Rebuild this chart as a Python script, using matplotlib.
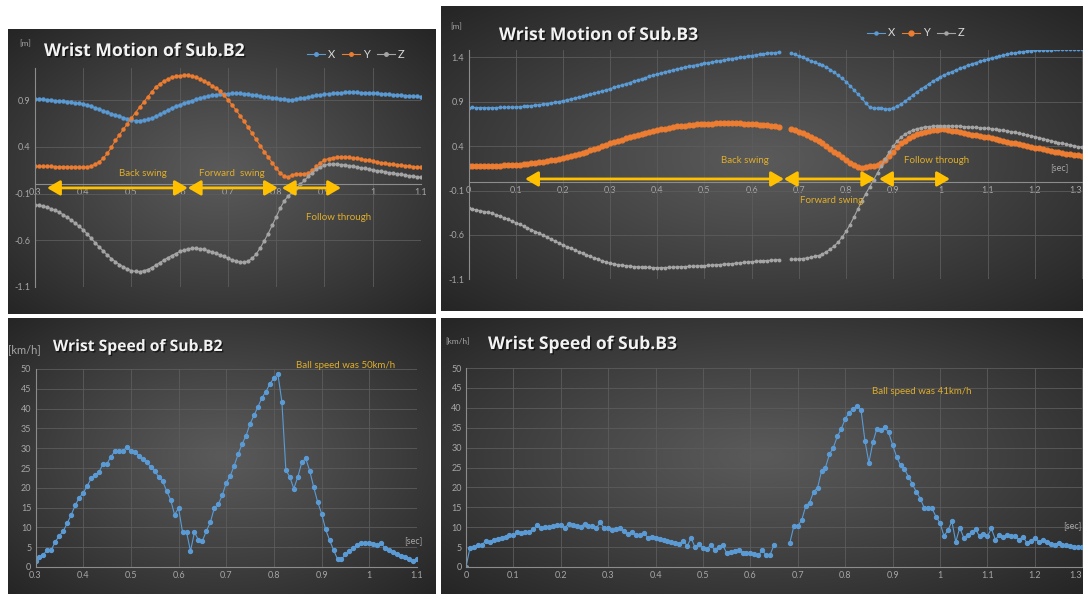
import numpy as np
import matplotlib.pyplot as plt
import matplotlib.patheffects as pe
from matplotlib.lines import Line2D

plt.rcParams['font.family'] = ['Lato', 'DejaVu Sans']

W, H = 1083, 594
nan = np.nan

# category labels, one every 12 samples (120 Hz -> 0.1 s)
b2_ticks = ['0.3', '0.4', '0.5', '0.6', '0.7', '0.8', '0.9', '1', '1.1']
b3_ticks = ['0', '0.1', '0.2', '0.3', '0.4', '0.5', '0.6', '0.7', '0.8',
            '0.9', '1', '1.1', '1.2', '1.3']
b2_motion_yticks = [-1.1, -0.6, -0.1, 0.4, 0.9]
b3_motion_yticks = [-1.1, -0.6, -0.1, 0.4, 0.9, 1.4]
speed_yticks = [0, 5, 10, 15, 20, 25, 30, 35, 40, 45, 50]

# Sub.B2 wrist position [m], 0.3 .. 1.1 s
b2_x = [0.915, 0.912, 0.909, 0.906, 0.902, 0.898, 0.894, 0.889, 0.884, 0.878, 0.872, 0.866,
        0.860, 0.850, 0.836, 0.820, 0.804, 0.788, 0.772, 0.756, 0.741, 0.727, 0.714, 0.701,
        0.690, 0.683, 0.683, 0.687, 0.695, 0.709, 0.727, 0.748, 0.771, 0.795, 0.815, 0.835,
        0.852, 0.868, 0.883, 0.897, 0.910, 0.924, 0.937, 0.947, 0.955, 0.962, 0.967, 0.971,
        0.973, 0.975, 0.975, 0.974, 0.971, 0.966, 0.960, 0.953, 0.945, 0.937, 0.931, 0.927,
        0.923, 0.918, 0.913, 0.908, 0.906, 0.912, 0.920, 0.928, 0.936, 0.944, 0.952, 0.959,
        0.965, 0.970, 0.975, 0.979, 0.982, 0.984, 0.986, 0.986, 0.985, 0.983, 0.981, 0.979,
        0.977, 0.974, 0.971, 0.968, 0.964, 0.961, 0.958, 0.955, 0.951, 0.948, 0.945, 0.942,
        0.940]
b2_y = [0.190, 0.190, 0.190, 0.190, 0.190, 0.189, 0.188, 0.187, 0.186, 0.185, 0.184, 0.182,
        0.180, 0.185, 0.196, 0.214, 0.240, 0.280, 0.330, 0.395, 0.470, 0.530, 0.590, 0.650,
        0.710, 0.768, 0.825, 0.880, 0.935, 0.990, 1.040, 1.075, 1.105, 1.128, 1.145, 1.157,
        1.165, 1.169, 1.170, 1.163, 1.148, 1.130, 1.111, 1.085, 1.058, 1.030, 1.000, 0.955,
        0.905, 0.850, 0.795, 0.735, 0.675, 0.610, 0.545, 0.480, 0.415, 0.350, 0.290, 0.230,
        0.170, 0.120, 0.085, 0.080, 0.100, 0.112, 0.110, 0.112, 0.120, 0.150, 0.190, 0.228,
        0.260, 0.275, 0.285, 0.290, 0.292, 0.291, 0.287, 0.282, 0.276, 0.270, 0.263, 0.256,
        0.245, 0.238, 0.232, 0.226, 0.220, 0.214, 0.209, 0.204, 0.199, 0.194, 0.189, 0.184,
        0.180]
b2_z = [-0.220, -0.228, -0.237, -0.248, -0.262, -0.280, -0.302, -0.327, -0.355, -0.385, -0.418, -0.453,
        -0.490, -0.535, -0.582, -0.630, -0.675, -0.718, -0.760, -0.798, -0.832, -0.862, -0.888, -0.910,
        -0.928, -0.936, -0.937, -0.930, -0.916, -0.895, -0.870, -0.843, -0.816, -0.790, -0.766, -0.745,
        -0.722, -0.707, -0.695, -0.689, -0.688, -0.692, -0.700, -0.712, -0.726, -0.742, -0.758, -0.775,
        -0.795, -0.810, -0.825, -0.836, -0.838, -0.825, -0.795, -0.750, -0.685, -0.610, -0.530, -0.440,
        -0.350, -0.255, -0.180, -0.125, -0.085, -0.045, 0.000, 0.040, 0.085, 0.125, 0.160, 0.185,
        0.205, 0.212, 0.215, 0.214, 0.211, 0.207, 0.200, 0.193, 0.185, 0.177, 0.169, 0.161,
        0.153, 0.146, 0.139, 0.132, 0.125, 0.118, 0.110, 0.104, 0.098, 0.092, 0.086, 0.080,
        0.074]

# Sub.B3 wrist position [m], 0 .. 1.3 s (gap of missing samples near 0.67 s)
b3_x = [0.833, 0.835, 0.834, 0.833, 0.832, 0.832, 0.833, 0.834, 0.835, 0.836, 0.837, 0.838,
        0.840, 0.843, 0.846, 0.850, 0.855, 0.860, 0.866, 0.872, 0.879, 0.886, 0.893, 0.900,
        0.910, 0.920, 0.930, 0.940, 0.950, 0.961, 0.972, 0.984, 0.996, 1.008, 1.020, 1.033,
        1.046, 1.060, 1.074, 1.088, 1.102, 1.116, 1.130, 1.144, 1.158, 1.172, 1.186, 1.199,
        1.212, 1.224, 1.236, 1.247, 1.258, 1.268, 1.278, 1.288, 1.298, 1.307, 1.316, 1.324,
        1.332, 1.340, 1.348, 1.356, 1.363, 1.370, 1.377, 1.384, 1.391, 1.398, 1.405, 1.412,
        1.420, 1.428, 1.434, 1.440, 1.445, 1.450, 1.454, 1.457, nan, nan, 1.446, 1.432,
        1.415, 1.398, 1.380, 1.362, 1.344, 1.328, 1.313, 1.290, 1.262, 1.230, 1.197, 1.162,
        1.126, 1.080, 1.032, 0.985, 0.940, 0.885, 0.840, 0.828, 0.826, 0.824, 0.820, 0.818,
        0.830, 0.850, 0.875, 0.905, 0.940, 0.975, 1.010, 1.040, 1.070, 1.100, 1.128, 1.155,
        1.182, 1.202, 1.222, 1.240, 1.258, 1.276, 1.295, 1.311, 1.326, 1.340, 1.353, 1.366,
        1.380, 1.392, 1.403, 1.414, 1.424, 1.434, 1.443, 1.451, 1.458, 1.464, 1.469, 1.473,
        1.477, 1.480, 1.483, 1.485, 1.487, 1.488, 1.489, 1.490, 1.490, 1.490, 1.490, 1.490,
        1.490, 1.490]
b3_y = [0.180, 0.178, 0.176, 0.175, 0.175, 0.176, 0.177, 0.178, 0.180, 0.182, 0.184, 0.186,
        0.188, 0.191, 0.195, 0.200, 0.205, 0.211, 0.218, 0.225, 0.232, 0.240, 0.248, 0.256,
        0.263, 0.273, 0.284, 0.296, 0.310, 0.324, 0.338, 0.353, 0.368, 0.384, 0.400, 0.416,
        0.432, 0.446, 0.460, 0.474, 0.488, 0.501, 0.514, 0.526, 0.538, 0.550, 0.561, 0.572,
        0.582, 0.590, 0.598, 0.606, 0.614, 0.621, 0.627, 0.632, 0.637, 0.641, 0.645, 0.648,
        0.650, 0.652, 0.654, 0.655, 0.656, 0.657, 0.657, 0.657, 0.656, 0.655, 0.654, 0.652,
        0.650, 0.646, 0.642, 0.638, 0.633, 0.628, 0.622, 0.615, nan, nan, 0.589, 0.576,
        0.563, 0.545, 0.527, 0.507, 0.483, 0.458, 0.432, 0.401, 0.370, 0.338, 0.306, 0.275,
        0.244, 0.215, 0.188, 0.170, 0.158, 0.165, 0.176, 0.180, 0.188, 0.210, 0.244, 0.290,
        0.338, 0.385, 0.432, 0.462, 0.488, 0.513, 0.537, 0.550, 0.562, 0.574, 0.580, 0.585,
        0.589, 0.588, 0.585, 0.574, 0.565, 0.555, 0.544, 0.537, 0.530, 0.522, 0.514, 0.507,
        0.499, 0.489, 0.479, 0.469, 0.459, 0.449, 0.439, 0.430, 0.420, 0.411, 0.401, 0.392,
        0.383, 0.374, 0.365, 0.356, 0.347, 0.338, 0.330, 0.323, 0.316, 0.309, 0.302, 0.296,
        0.289, 0.283]
b3_z = [-0.300, -0.309, -0.318, -0.327, -0.337, -0.347, -0.357, -0.372, -0.388, -0.405, -0.423, -0.442,
        -0.462, -0.482, -0.502, -0.522, -0.542, -0.562, -0.582, -0.604, -0.626, -0.648, -0.670, -0.692,
        -0.713, -0.732, -0.751, -0.770, -0.789, -0.808, -0.826, -0.843, -0.859, -0.875, -0.891, -0.906,
        -0.920, -0.928, -0.935, -0.941, -0.947, -0.952, -0.957, -0.960, -0.963, -0.965, -0.967, -0.968,
        -0.969, -0.969, -0.968, -0.966, -0.964, -0.961, -0.958, -0.957, -0.955, -0.953, -0.951, -0.948,
        -0.946, -0.943, -0.940, -0.937, -0.934, -0.931, -0.927, -0.923, -0.919, -0.914, -0.910, -0.906,
        -0.901, -0.898, -0.895, -0.892, -0.889, -0.886, -0.882, -0.878, nan, nan, -0.875, -0.873,
        -0.871, -0.866, -0.860, -0.852, -0.843, -0.832, -0.815, -0.790, -0.760, -0.725, -0.680, -0.625,
        -0.560, -0.485, -0.400, -0.310, -0.220, -0.135, -0.060, 0.020, 0.100, 0.180, 0.260, 0.330,
        0.400, 0.455, 0.500, 0.535, 0.560, 0.580, 0.595, 0.606, 0.615, 0.620, 0.624, 0.626,
        0.628, 0.628, 0.627, 0.626, 0.625, 0.623, 0.620, 0.617, 0.614, 0.611, 0.607, 0.603,
        0.600, 0.595, 0.589, 0.583, 0.576, 0.570, 0.563, 0.554, 0.545, 0.535, 0.526, 0.516,
        0.507, 0.496, 0.484, 0.473, 0.461, 0.450, 0.439, 0.430, 0.421, 0.412, 0.403, 0.394,
        0.386, 0.379]

# wrist speed [km/h]
b2_speed = [1.5, 2.4, 3.1, 4.4, 4.4, 6.4, 7.9, 9.1, 11.1, 13.2, 15.6, 17.5,
            18.7, 20.4, 22.4, 23.2, 24.0, 26.1, 26.1, 27.9, 29.2, 29.2, 29.4, 30.2,
            29.2, 29.0, 28.1, 27.3, 26.4, 25.3, 24.3, 22.7, 21.7, 19.2, 17.0, 13.2,
            14.9, 8.8, 8.9, 4.0, 8.8, 6.8, 6.6, 9.1, 11.3, 14.9, 15.9, 18.1,
            21.3, 23.0, 25.6, 28.5, 31.1, 33.2, 36.2, 38.3, 40.5, 42.8, 44.3, 46.3,
            47.7, 48.7, 41.7, 24.5, 22.7, 19.8, 22.7, 26.4, 27.4, 24.3, 20.2, 16.4,
            13.5, 9.5, 6.8, 4.3, 2.0, 2.0, 3.2, 4.1, 4.9, 5.5, 6.0, 6.1,
            6.1, 5.8, 5.5, 6.0, 4.7, 4.3, 3.8, 3.2, 2.8, 2.6, 2.0, 1.5,
            2.1]
b3_speed = [0.0, 4.8, 4.9, 5.5, 5.6, 6.5, 6.3, 6.8, 7.1, 7.3, 7.6, 8.0,
            8.1, 8.7, 8.5, 8.8, 8.8, 9.5, 10.5, 9.7, 10.1, 10.1, 10.3, 10.5,
            10.5, 9.8, 10.9, 10.5, 10.3, 10.1, 10.9, 10.3, 10.3, 9.8, 11.2, 9.7,
            9.8, 9.2, 9.5, 9.7, 9.0, 8.4, 8.7, 8.0, 8.0, 8.6, 7.4, 7.6,
            7.4, 7.0, 6.7, 6.6, 6.3, 6.0, 5.9, 6.6, 5.3, 7.3, 4.9, 5.9,
            4.8, 4.6, 5.5, 4.2, 5.0, 5.5, 3.5, 3.8, 4.0, 4.2, 3.5, 3.6,
            3.5, 3.2, 2.9, 4.2, 3.0, 3.1, 5.6, nan, nan, nan, 6.1, 10.3,
            10.3, 11.8, 15.3, 16.2, 18.9, 19.9, 24.1, 25.0, 28.3, 30.0, 32.8, 34.7,
            37.2, 38.8, 39.7, 40.5, 39.5, 31.7, 26.2, 31.3, 34.7, 34.3, 35.1, 33.8,
            30.7, 27.7, 25.6, 24.6, 22.7, 20.8, 18.9, 17.2, 14.9, 14.7, 14.7, 12.6,
            11.1, 7.8, 9.2, 11.5, 6.3, 9.9, 7.4, 8.0, 8.7, 9.5, 7.7, 8.2,
            7.7, 9.7, 6.9, 8.0, 7.6, 8.0, 7.8, 7.8, 6.9, 7.6, 6.1, 6.6,
            7.3, 6.3, 6.9, 6.3, 5.9, 5.6, 6.1, 5.5, 5.5, 5.3, 5.0, 5.0,
            4.9]

BLUE, ORANGE, GREY = '#5B9BD5', '#ED7D31', '#A5A5A5'
GOLD, GOLD_TEXT = '#FFC000', '#E0AE2A'
TICK = '#A6A6A6'

fig = plt.figure(figsize=(W / 100, H / 100), dpi=100)
fig.patch.set_facecolor('white')


def px_rect(x0, y0, x1, y1):
    return [x0 / W, 1 - y1 / H, (x1 - x0) / W, (y1 - y0) / H]


def fig_text(x, y, s, **kw):
    fig.text(x / W, 1 - y / H, s, **kw)


# dark radial background like the Excel chart style
gx, gy = np.meshgrid(np.linspace(-1, 1, 300), np.linspace(-1, 1, 200))
r = np.clip(np.hypot(gx, gy) / np.sqrt(2), 0, 1)
c_in, c_out = 0x5a / 255, 0x25 / 255
grad = c_in + (c_out - c_in) * r ** 1.1
grad = np.dstack([grad, grad, grad])


def panel(x0, y0, x1, y1):
    bg = fig.add_axes(px_rect(x0, y0, x1, y1), zorder=0)
    bg.imshow(grad, extent=(0, 1, 0, 1), aspect='auto', interpolation='bicubic')
    bg.set_axis_off()


def make_axes(rect, xmax, ylim, yticks, ylabels, xlabels, zero_axis):
    ax = fig.add_axes(px_rect(*rect), zorder=1)
    ax.patch.set_visible(False)
    ax.set_xlim(0, xmax)
    ax.set_ylim(*ylim)
    ax.set_xticks(np.arange(len(xlabels)) * 12, xlabels)
    ax.set_yticks(yticks, ylabels)
    ax.grid(True, color='#5c5c5c', lw=0.6)
    ax.set_axisbelow(True)
    for s in ('top', 'right'):
        ax.spines[s].set_visible(False)
    for s in ('left', 'bottom'):
        ax.spines[s].set_color('#8c8c8c')
        ax.spines[s].set_linewidth(0.8)
    if zero_axis:
        ax.spines['bottom'].set_position(('data', 0))
    ax.tick_params(length=0, labelsize=6.5, labelcolor=TICK, pad=3)
    return ax


title_fx = [pe.withSimplePatchShadow(offset=(1, -1), shadow_rgbFace='black', alpha=0.6)]
arrow = dict(arrowstyle='<|-|>,head_length=0.55,head_width=0.32', color=GOLD, lw=2.0,
             mutation_scale=14, shrinkA=0, shrinkB=0)

# ---------------- top left: motion B2 ----------------
panel(8, 29, 436, 314)
ax = make_axes((35, 67.7, 421, 286.7), 96, (-1.1, 1.25), b2_motion_yticks,
               ['-1.1', '-0.6', '-0.1', '0.4', '0.9'], b2_ticks, True)
i2 = np.arange(len(b2_x))
ax.plot(i2, b2_x, color=BLUE, marker='o', ms=2.2, lw=0.8)
ax.plot(i2, b2_y, color=ORANGE, marker='o', ms=2.2, lw=0.8)
ax.plot(i2, b2_z, color=GREY, marker='o', ms=2.0, lw=0.8)
for a, b in [(3.0, 38.0), (38.0, 60.4), (61.4, 76.1)]:
    ax.annotate('', xy=(b, -0.04), xytext=(a, -0.04), arrowprops=arrow)
ax.text(26.9, 0.11, 'Back swing', color=GOLD_TEXT, fontsize=7, ha='center', va='center')
ax.text(49.0, 0.11, 'Forward  swing', color=GOLD_TEXT, fontsize=7, ha='center', va='center')
ax.text(75.4, -0.36, 'Follow through', color=GOLD_TEXT, fontsize=7, ha='center', va='center')
fig_text(44, 51, 'Wrist Motion of Sub.B2', color='#F2F2F2', fontsize=12.7, fontweight='bold',
         family='Open Sans', va='center', path_effects=title_fx)
fig_text(19, 44, '[m]', color=TICK, fontsize=6, va='center')
handles = [Line2D([], [], color=c, marker='o', ms=2.5, lw=0.8) for c in (BLUE, ORANGE, GREY)]
fig.legend(handles, ['X', 'Y', 'Z'], loc='center', bbox_to_anchor=(356 / W, 1 - 54 / H), ncol=3,
           frameon=False, fontsize=8, labelcolor='#D9D9D9', handlelength=1.6, handletextpad=0.3,
           columnspacing=0.6, borderpad=0)

# ---------------- top right: motion B3 ----------------
panel(441, 6, 1083, 311)
ax = make_axes((468.5, 50.2, 468.5 + 3.933 * 160, 279.3), 160, (-1.1, 1.48), b3_motion_yticks,
               ['-1.1', '-0.6', '-0.1', '0.4', '0.9', '1.4'], b3_ticks, True)
ax.get_xticklabels()[-1].set_horizontalalignment('right')
i3 = np.arange(len(b3_x))
ax.plot(i3, b3_x, color=BLUE, marker='o', ms=1.8, lw=0.8)
ax.plot(i3, b3_y, color=ORANGE, marker='o', ms=3.4, lw=0.8)
ax.plot(i3, b3_z, color=GREY, marker='o', ms=1.8, lw=0.8)
for a, b in [(14.4, 80.2), (80.2, 103.4), (104.4, 122.4)]:
    ax.annotate('', xy=(b, 0.03), xytext=(a, 0.03), arrowprops=arrow)
ax.text(70.3, 0.236, 'Back swing', color=GOLD_TEXT, fontsize=7, ha='center', va='center')
ax.text(92.4, -0.215, 'Forward swing', color=GOLD_TEXT, fontsize=7, ha='center', va='center')
ax.text(119.1, 0.243, 'Follow through', color=GOLD_TEXT, fontsize=7, ha='center', va='center')
fig_text(1059, 169, '[sec]', color=TICK, fontsize=6.5, ha='center', va='center')
fig_text(499, 35, 'Wrist Motion of Sub.B3', color='#F2F2F2', fontsize=12.6, fontweight='bold',
         family='Open Sans', va='center', path_effects=title_fx)
fig_text(450, 27, '[m]', color=TICK, fontsize=6, va='center')
handles = [Line2D([], [], color=BLUE, marker='o', ms=2.2, lw=0.8),
           Line2D([], [], color=ORANGE, marker='o', ms=3.5, lw=0.8),
           Line2D([], [], color=GREY, marker='o', ms=2.2, lw=0.8)]
fig.legend(handles, ['X', 'Y', 'Z'], loc='center', bbox_to_anchor=(916 / W, 1 - 33 / H), ncol=3,
           frameon=False, fontsize=8, labelcolor='#D9D9D9', handlelength=1.6, handletextpad=0.3,
           columnspacing=0.6, borderpad=0)

# ---------------- bottom left: speed B2 ----------------
panel(8, 318, 436, 594)
ax = make_axes((35.5, 369, 417, 567), 96, (0, 50), speed_yticks,
               [str(v) for v in speed_yticks], b2_ticks, False)
ax.plot(np.arange(len(b2_speed)), b2_speed, color=BLUE, marker='o', ms=2.8, lw=0.8)
fig_text(53, 347, 'Wrist Speed of Sub.B2', color='#F2F2F2', fontsize=11.3, fontweight='bold',
         family='Open Sans', va='center', path_effects=title_fx)
fig_text(8, 350, '[km/h]', color=TICK, fontsize=8, va='center')
fig_text(346, 366, 'Ball speed was 50km/h', color=GOLD_TEXT, fontsize=7, ha='center', va='center')
fig_text(413, 542, '[sec]', color=TICK, fontsize=6.5, ha='center', va='center')

# ---------------- bottom right: speed B3 ----------------
panel(441, 318, 1083, 594)
ax = make_axes((466, 368, 466 + 3.95 * 160, 567), 160, (0, 50), speed_yticks,
               [str(v) for v in speed_yticks], b3_ticks, False)
ax.get_xticklabels()[-1].set_horizontalalignment('right')
ax.plot(np.arange(len(b3_speed)), b3_speed, color=BLUE, marker='o', ms=2.8, lw=0.8)
fig_text(488, 344, 'Wrist Speed of Sub.B3', color='#F2F2F2', fontsize=12.6, fontweight='bold',
         family='Open Sans', va='center', path_effects=title_fx)
fig_text(445, 342, '[km/h]', color=TICK, fontsize=6, va='center')
fig_text(922, 392, 'Ball speed was 41km/h', color=GOLD_TEXT, fontsize=7, ha='center', va='center')
fig_text(1081, 527, '[sec]', color=TICK, fontsize=6.5, ha='right', va='center')

fig.savefig('out.png', dpi=100)
